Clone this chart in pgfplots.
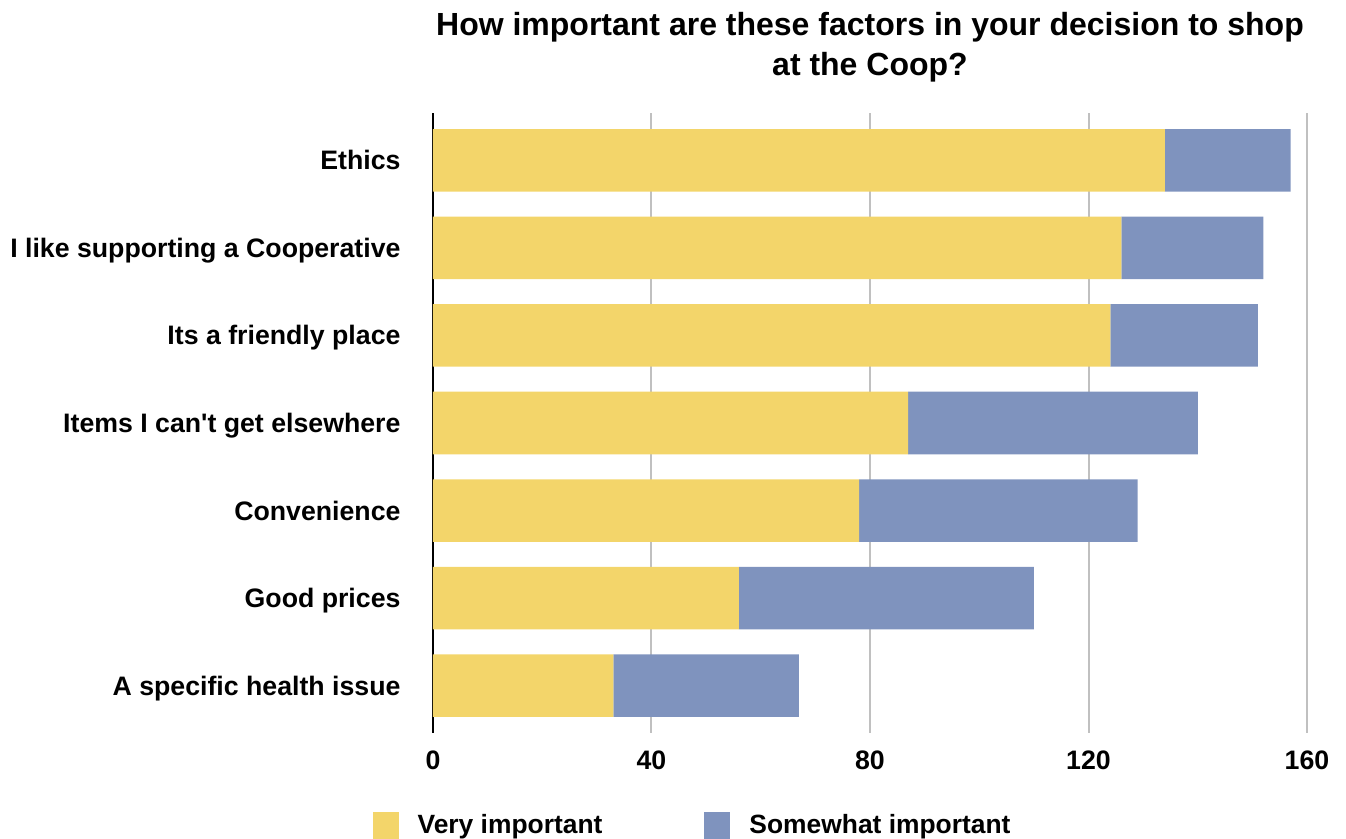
\documentclass[border=0pt]{standalone}
\usepackage{fontspec}
\setmainfont{Liberation Sans}
\usepackage{pgfplots}
\pgfplotsset{compat=1.18}
\definecolor{yfill}{HTML}{F3D56A}
\definecolor{bfill}{HTML}{7F93BE}
\definecolor{gridgray}{HTML}{C0C0C0}
\begin{document}
\begin{tikzpicture}
\begin{axis}[
  name=ax,
  scale only axis,
  width=874pt, height=620pt,
  xbar stacked,
  bar width=0.714,
  xmin=0, xmax=160,
  ymin=-0.54, ymax=6.54,
  axis line style={draw=none},
  xtick={40,80,120,160},
  extra x ticks={0},
  extra x tick style={grid style={black, line width=1.7pt}},
  xmajorgrids,
  grid style={gridgray, line width=2pt},
  major tick length=0pt,
  ytick={0,1,2,3,4,5,6},
  yticklabels={A specific health issue, Good prices, Convenience, Items I can\textquotesingle t get elsewhere, Its a friendly place, I like supporting a Cooperative, Ethics},
  font=\fontsize{26.7}{31}\selectfont\bfseries,
  tick label style={font=\fontsize{26.7}{31}\selectfont\bfseries},
  /pgf/number format/assume math mode=true,
  yticklabel style={anchor=base east, xshift=-29pt, yshift=-9.5pt},
  xticklabel style={yshift=-14pt},
  title={How important are these factors in your decision to shop\\at the Coop?},
  title style={font=\fontsize{32}{40}\selectfont\bfseries, align=center, yshift=21pt},
  legend columns=2,
  legend style={draw=none, at={(0.297,-0.1490)}, anchor=center,
    font=\fontsize{26.4}{31}\selectfont\bfseries,
    /tikz/every odd column/.append style={column sep=17pt},
    /tikz/every even column/.append style={column sep=100pt}},
  legend image code/.code={\path[#1,draw=none] (0pt,-14pt) rectangle (26pt,13pt);},
  clip=false,
]
\addplot[draw=none, fill=yfill] coordinates {
(33,0) (56,1) (78,2) (87,3) (124,4) (126,5) (134,6)};
\addplot[draw=none, fill=bfill] coordinates {
(34,0) (54,1) (51,2) (53,3) (27,4) (26,5) (23,6)};
\legend{Very important, Somewhat important}
\end{axis}
\pgfresetboundingbox
\path ([xshift=-433pt,yshift=-106pt]ax.south west) rectangle ([xshift=39pt,yshift=113pt]ax.north east);
\end{tikzpicture}
\end{document}
